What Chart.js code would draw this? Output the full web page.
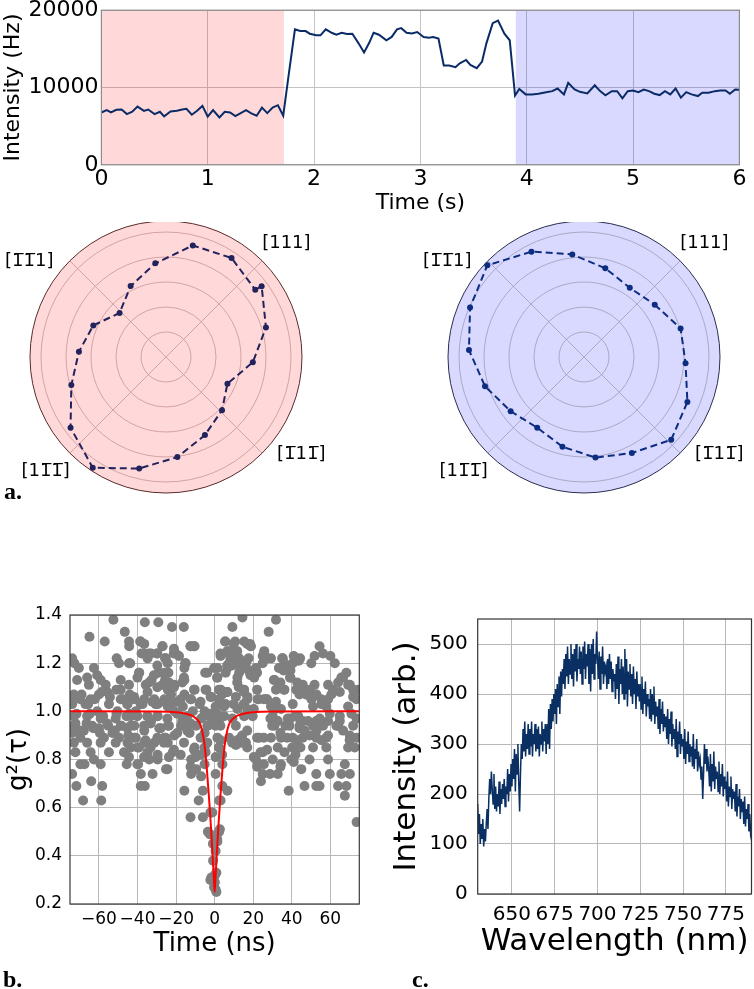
<!DOCTYPE html>
<html>
<head>
<meta charset="utf-8">
<script src="https://cdn.jsdelivr.net/npm/chart.js@4.4.1/dist/chart.umd.min.js"></script>
<style>
  html, body { margin: 0; padding: 0; background: #fff; }
  #page { position: relative; width: 754px; height: 989px; overflow: hidden; }
  canvas { position: absolute; }
  .tag { position: absolute; font: bold 24px 'Liberation Serif', 'DejaVu Serif', serif; line-height: 1; color: #000; }
</style>
</head>
<body>
<div id="page">
  <canvas id="trace" width="754" height="226" style="left:0;top:-6px"></canvas>
  <canvas id="polarA" width="340" height="272" style="left:-4px;top:222px"></canvas>
  <canvas id="polarB" width="340" height="272" style="left:414px;top:222px"></canvas>
  <canvas id="g2" width="377" height="380" style="left:0;top:595px"></canvas>
  <canvas id="spec" width="377" height="380" style="left:377px;top:595px"></canvas>
  <div class="tag" style="left:4px;top:479px">a.</div>
  <div class="tag" style="left:3px;top:967px">b.</div>
  <div class="tag" style="left:412px;top:967px">c.</div>
</div>
<script>
// ---- a. intensity trace ----
var TRACE_T = [0.00,0.05,0.09,0.14,0.19,0.24,0.29,0.34,0.40,0.44,0.50,0.55,0.59,0.65,0.71,0.76,0.80,0.85,0.90,0.95,
  1.00,1.05,1.11,1.16,1.21,1.26,1.31,1.36,1.41,1.46,1.51,1.56,1.61,1.66,1.71,1.76,1.82,
  1.87,1.92,1.96,2.02,2.06,2.11,2.17,2.21,2.26,2.31,2.36,2.42,2.47,2.52,2.56,2.61,2.68,2.73,2.78,2.82,2.87,2.92,2.97,
  3.03,3.08,3.12,3.17,3.22,3.27,3.33,3.37,3.43,3.47,3.53,3.58,3.62,3.68,3.73,3.79,3.84,3.89,
  3.93,3.99,4.05,4.11,4.17,4.24,4.29,4.35,4.39,4.45,4.50,4.57,4.64,4.69,4.74,4.80,4.85,4.90,4.95,
  5.00,5.05,5.10,5.15,5.20,5.25,5.30,5.35,5.40,5.45,5.50,5.55,5.61,5.65,5.71,5.77,5.82,5.87,5.91,5.96,6.00];
var TRACE_HZ = [6770,7070,6770,7110,7150,6560,6860,7530,6980,7150,6560,6860,6260,6900,6980,7150,7240,6480,6980,7620,
  6220,7070,6130,6860,6770,6300,6690,7070,6640,6350,7400,6690,7400,7710,6350,11500,17520,
  17300,17300,16960,16750,16750,17520,17050,16830,17090,16920,16960,15680,14540,15810,17090,16830,16110,16540,17520,17680,17090,17000,17170,
  16540,16450,16540,16320,12840,12840,12630,13130,13560,12930,12500,13350,15680,18320,18660,16960,16110,8950,
  9820,9110,9110,9190,9360,9530,9870,9110,10600,9740,9440,9230,10290,9530,8980,9530,9530,8600,9530,
  9610,9400,9740,9530,9190,9020,9530,9110,9870,8680,9400,9110,8890,9320,9320,9530,9610,9610,9190,9740,9700];
var PINK_SPAN = [0, 1.717];
var BLUE_SPAN = [3.895, 6];
var TIME_TICKS = [0, 1, 2, 3, 4, 5, 6];
var HZ_TICKS = [0, 10000, 20000];

// ---- a. polar plots (angle in degrees, counter-clockwise from +x) ----
var LEFT_ANGLE = [37, 36.5, 16.5, -3.5, -23.5, -43.5, -63.5, -83.5, -103.5, -123.5, -143.5, -163.5, 176.5, 156.5, 136.5, 116.5, 96.5, 76.5, 56.5];
var LEFT_R     = [4.47, 4.76, 4.17, 3.48, 2.68, 3.09, 3.49, 4.03, 4.59, 5.31, 4.75, 3.95, 3.49, 3.17, 2.56, 3.17, 3.77, 4.59, 4.75];
var RIGHT_ANGLE = [36.5, 16.5, -3.5, -23.5, -43.5, -63.5, -83.5, -103.5, -123.5, -143.5, -163.5, 176.5, 156.5, 136.5, 116.5, 96.5, 76.5, 56.5];
var RIGHT_R     = [3.52, 4.03, 4.07, 4.51, 4.81, 4.29, 4.05, 3.69, 3.39, 3.65, 4.13, 4.61, 4.97, 5.33, 4.71, 4.13, 3.65, 3.32];
var DIRECTIONS = ['[111]', '[1\u030511\u0305]', '[11\u03051\u0305]', '[1\u03051\u03051]'];
var DIRECTION_LABEL_ANGLE = [47, -38, -133, 143];
var SPOKE_ANGLE = [45, -45, -135, 135];
var RINGS = [0, 1, 2, 3, 4, 5, 5.44];

// ---- b. g2 ----
var G2_POINTS = [
  [-52.5,1.38],[-36.2,1.37],[-29.2,1.37],[-22.1,1.35],[-16.0,1.35],[-64.9,1.31],[-46.6,1.33],[-57.0,1.29],[-44.3,1.27],[-38.6,1.29],
  [-36.5,1.28],[-27.0,1.27],[-12.5,1.27],[-10.4,1.27],[-37.9,1.24],[-33.0,1.24],[-29.9,1.24],[-21.2,1.24],[-73.9,1.22],[-50.8,1.22],
  [-34.8,1.22],[-25.7,1.22],[-72.7,1.20],[-49.6,1.20],[-43.8,1.20],[-24.3,1.20],[-15.3,1.20],[-70.4,1.18],[-62.6,1.18],[-15.7,1.18],
  [-4.9,1.16],[-0.3,1.18],[-60.9,1.15],[-39.1,1.16],[-29.2,1.16],[-24.0,1.16],[-66.1,1.14],[-71.3,1.13],[-59.1,1.13],[-48.7,1.13],
  [-40.0,1.14],[-32.7,1.13],[-25.7,1.13],[-15.7,1.13],[-65.2,1.11],[-56.5,1.11],[-35.7,1.11],[-27.0,1.11],[-20.9,1.11],[-24.3,1.09],
  [-10.4,1.09],[-4.3,1.09],[-48.7,1.09],[-55.7,1.08],[-73.0,1.07],[-60.0,1.07],[-34.8,1.08],[-22.6,1.07],[-15.7,1.07],[-1.7,1.06],
  [-69.6,1.05],[-64.3,1.05],[-48.7,1.05],[-41.7,1.05],[-31.3,1.05],[-26.1,1.05],[-19.1,1.04],[-12.2,1.05],[-73.9,1.03],[-67.0,1.03],
  [-54.8,1.03],[-45.2,1.03],[-37.4,1.03],[-29.6,1.03],[-24.3,1.02],[-16.5,1.02],[-7.8,1.03],[-60.9,1.00],[-50.4,1.00],[-40.9,1.00],
  [-20.9,1.00],[-11.3,1.00],[-5.2,1.00],[-73.0,0.98],[-66.1,0.98],[-59.1,0.97],[-51.3,0.97],[-43.5,0.98],[-34.8,0.98],[-29.6,0.98],
  [-15.7,0.97],[-7.0,0.97],[-1.7,0.97],[-72.2,0.95],[-63.5,0.94],[-55.7,0.95],[-48.7,0.94],[-41.7,0.94],[-33.0,0.96],[-24.3,0.94],
  [-17.4,0.94],[-9.6,0.94],[-3.5,0.94],[-73.9,0.91],[-67.8,0.92],[-60.0,0.93],[-53.0,0.91],[-45.2,0.93],[-36.5,0.92],[-28.7,0.93],
  [-13.0,0.91],[-5.2,0.91],[-69.6,0.89],[-57.4,0.89],[-49.6,0.89],[-40.9,0.89],[-26.1,0.89],[-20.9,0.90],[-73.0,0.87],[-66.1,0.87],
  [-59.1,0.87],[-51.3,0.87],[-45.2,0.87],[-36.5,0.87],[-31.3,0.87],[-24.3,0.87],[-10.4,0.85],[-5.2,0.85],[-72.2,0.83],[-64.3,0.83],
  [-54.8,0.83],[-47.0,0.83],[-40.0,0.85],[-34.8,0.83],[-29.6,0.82],[-21.7,0.83],[-7.0,0.82],[-62.6,0.80],[-69.6,0.78],[-67.5,0.78],
  [-59.1,0.78],[-45.6,0.78],[-39.7,0.78],[-33.9,0.80],[-29.6,0.80],[-25.2,0.76],[-12.2,0.80],[-9.6,0.76],[-5.2,0.78],[-73.9,0.74],
  [-71.7,0.69],[-64.0,0.71],[-58.3,0.69],[-38.3,0.74],[-32.2,0.74],[-38.3,0.69],[-36.2,0.69],[-12.2,0.74],[-7.0,0.73],[-15.7,0.67],
  [-6.1,0.67],[-68.2,0.63],[-58.8,0.63],[-8.3,0.63],[-12.5,0.56],[-6.1,0.56],[-1.7,0.58],[-3.5,0.50],[-0.9,0.45],[-1.7,0.31],[-0.3,0.27],
  [14.4,1.39],[31.8,1.38],[9.2,1.35],[28.0,1.33],[5.4,1.29],[10.6,1.29],[15.3,1.29],[18.3,1.28],[18.8,1.27],[54.4,1.27],
  [6.6,1.25],[25.7,1.25],[3.1,1.23],[8.3,1.23],[12.7,1.22],[17.6,1.22],[24.9,1.23],[29.2,1.22],[35.3,1.22],[44.3,1.22],
  [51.8,1.23],[56.2,1.24],[60.0,1.23],[7.5,1.20],[11.8,1.20],[16.2,1.20],[24.9,1.20],[36.2,1.20],[40.5,1.20],[50.1,1.20],
  [62.3,1.20],[1.4,1.18],[6.6,1.18],[14.4,1.18],[21.4,1.18],[35.7,1.17],[5.7,1.16],[12.7,1.16],[18.3,1.16],[68.3,1.16],
  [1.4,1.14],[11.8,1.14],[20.5,1.14],[31.0,1.13],[39.1,1.14],[45.7,1.11],[51.8,1.11],[58.8,1.11],[65.7,1.14],[70.1,1.11],
  [74.4,1.09],[3.1,1.09],[6.6,1.08],[15.3,1.09],[31.8,1.09],[36.2,1.09],[42.3,1.09],[49.2,1.09],[64.9,1.08],[2.3,1.05],
  [11.0,1.06],[17.0,1.06],[22.3,1.05],[26.6,1.05],[31.8,1.04],[44.0,1.07],[47.5,1.07],[55.3,1.05],[60.5,1.07],[71.8,1.06],
  [0.5,1.02],[5.7,1.03],[11.8,1.01],[29.2,1.02],[34.4,1.01],[40.5,1.03],[51.0,1.02],[57.9,1.02],[69.2,1.02],[4.9,0.98],
  [9.2,0.97],[15.3,0.98],[19.7,0.98],[30.1,0.98],[32.7,0.96],[37.9,0.97],[45.7,0.96],[52.7,0.96],[58.8,0.96],[64.9,0.96],
  [73.6,0.97],[0.5,0.94],[11.0,0.94],[31.0,0.94],[38.8,0.94],[44.0,0.93],[51.0,0.94],[56.2,0.94],[64.0,0.94],[71.8,0.94],
  [1.4,0.89],[7.5,0.89],[13.6,0.89],[16.2,0.87],[23.1,0.89],[29.2,0.89],[34.4,0.89],[40.5,0.89],[45.7,0.89],[52.7,0.89],
  [57.9,0.89],[70.1,0.90],[73.6,0.89],[2.3,0.85],[11.0,0.86],[13.6,0.87],[32.7,0.85],[36.2,0.83],[51.0,0.85],[57.9,0.85],
  [69.2,0.85],[21.4,0.80],[24.9,0.83],[30.1,0.80],[39.7,0.80],[49.2,0.80],[58.8,0.80],[4.0,0.78],[22.3,0.78],[34.4,0.78],
  [67.5,0.78],[0.5,0.74],[24.9,0.74],[28.7,0.74],[32.7,0.74],[44.9,0.76],[52.7,0.74],[59.7,0.74],[65.7,0.74],[70.1,0.74],
  [24.0,0.71],[46.6,0.69],[52.7,0.69],[54.4,0.69],[64.0,0.69],[68.3,0.69],[4.0,0.69],[6.6,0.67],[38.4,0.67],[67.5,0.65],
  [3.1,0.63],[-1.2,0.58],[73.6,0.54],[2.3,0.50],[1.4,0.46],[0.5,0.42],[0.2,0.32],[0.5,0.26],
  [-2.2,0.58],[2.3,0.63],[2.7,0.51],[-2.5,0.49],[1.3,0.47],[-0.8,0.38],[0.9,0.33],[0.1,0.29],[-2.2,0.30],[0.9,0.25],
  [5.6,1.29],[9.9,1.28],[16.9,1.28],[18.6,1.27],[7.4,1.25],[11.7,1.25],[3.0,1.24],[7.4,1.24],[8.2,1.22],[6.5,1.19],
  [9.1,1.19],[12.5,1.19],[16.0,1.20],[17.7,1.17],[18.6,1.15],[22.0,1.16],[25.5,1.24],[27.2,1.22],[35.0,1.22],[41.0,1.23],
  [43.6,1.21],[33.3,1.18],[36.7,1.18],[39.3,1.17],[30.7,1.13],[34.1,1.12],[35.9,1.09],[39.3,1.14],[42.8,1.12],[44.5,1.09],
  [1.3,1.14],[2.2,1.09],[3.9,1.07],[6.5,1.08],[11.7,1.12],[12.5,1.10],[15.1,1.08],[16.9,1.05],[22.0,1.09],[22.9,1.05],
  [25.5,1.05],[27.2,1.05],[29.8,1.03],[31.5,1.01],[20.3,1.01],[4.8,1.02],[1.3,0.99],[2.2,0.96],[3.0,0.94],[15.1,1.03],
  [16.9,1.01],[9.9,1.03],[28.9,0.97],[32.4,0.96],[29.8,0.94],[39.3,0.97],[41.9,0.98],[44.5,0.96],[36.7,0.94],[34.1,0.91],
  [37.6,0.89],[25.5,0.89],[22.0,0.89],[16.9,0.92],[14.3,0.90],[11.7,0.88],[9.1,0.87],[3.0,0.88],[2.2,0.85],[16.9,0.85],
  [20.3,0.81],[23.8,0.83],[27.2,0.84],[42.8,0.88],[40.2,0.85],[41.9,0.82],[44.5,0.85],[0.5,0.81],[3.9,0.82],[22.0,0.77],
  [25.5,0.78],[34.1,0.77],[41.0,0.79],
  [-44.4,1.29],[-38.4,1.29],[-27.1,1.27],[-21.1,1.26],[-12.5,1.27],[-10.7,1.27],[-36.6,1.24],[-34.0,1.24],[-29.7,1.24],[-25.4,1.22],
  [-20.2,1.24],[-18.5,1.23],[-44.4,1.20],[-29.7,1.19],[-15.0,1.20],[-39.2,1.16],[-31.5,1.15],[-26.3,1.16],[-15.9,1.14],[-3.8,1.16],
  [-44.4,1.11],[-34.0,1.12],[-29.7,1.10],[-23.7,1.12],[-21.1,1.10],[-16.8,1.12],[-10.7,1.09],[-4.7,1.09],[-41.8,1.06],[-36.6,1.05],
  [-32.3,1.04],[-26.3,1.04],[-22.8,1.05],[-17.6,1.05],[-12.5,1.05],[-7.3,1.04],[-2.1,1.06],[-45.3,1.03],[-38.4,1.03],[-30.6,1.03],
  [-22.8,1.02],[-44.4,0.99],[-40.1,0.98],[-34.9,0.98],[-29.7,0.98],[-24.5,0.97],[-19.4,0.99],[-14.2,0.98],[-5.5,0.98],[-2.1,0.99],
  [-43.5,0.94],[-36.6,0.94],[-33.2,0.95],[-28.0,0.93],[-23.7,0.94],[-16.8,0.96],[-12.5,0.95],[-3.8,0.94],[-41.8,0.89],[-35.8,0.88],
  [-29.7,0.89],[-25.4,0.89],[-19.4,0.91],[-14.2,0.92],[-7.3,0.89],[-43.5,0.85],[-39.2,0.85],[-33.2,0.85],[-26.3,0.87],[-21.1,0.84],
  [-15.9,0.87],[-10.7,0.84],[-3.8,0.87],[-44.4,0.81],[-36.6,0.81],[-29.7,0.81],[-23.7,0.81],[-17.6,0.82],[-9.9,0.81],[-4.7,0.83],
  [-40.1,0.78],[-24.5,0.76],[-12.5,0.77],
  [45.0,1.08],[47.6,1.07],[50.2,1.05],[52.8,1.07],[55.4,1.03],[58.8,1.05],[61.4,1.09],[64.0,1.12],[66.6,1.14],[69.2,1.11],
  [71.8,1.09],[73.5,1.05],[44.1,0.94],[46.7,0.92],[49.3,0.90],[52.8,0.92],[55.4,0.88],[58.8,0.90],[63.1,0.94],[66.6,0.92],
  [70.0,0.88],[72.6,0.85],[43.3,0.98],[48.4,0.96],[54.5,0.97],[59.7,0.99],[64.9,0.98],[70.9,0.99],
  [-72.5,1.05],[-69.0,1.07],[-65.6,1.03],[-62.1,1.05],[-58.6,1.08],[-54.3,1.06],[-50.9,1.09],[-47.4,1.05],[-44.0,1.07],[-73.3,0.94],
  [-69.9,0.92],[-66.4,0.95],[-62.9,0.93],[-59.5,0.91],[-55.2,0.94],[-51.7,0.92],[-48.3,0.94],[-44.8,0.90],[-71.6,0.99],[-64.7,0.99],
  [-57.8,0.98],[-50.9,0.99],[-45.7,0.98]];
var FIT_T = [-75,-30,-20,-15,-12,-10,-8,-7,-6,-5,-4,-3,-2.5,-2,-1.5,-1,-0.5,0,0.5,1,1.5,2,2.5,3,4,5,6,7,8,10,12,15,20,30,75];
var FIT_G = [1.0,0.999,0.996,0.99,0.983,0.972,0.955,0.935,0.9,0.845,0.755,0.65,0.59,0.53,0.46,0.39,0.32,0.25,0.32,0.39,0.46,0.53,0.59,0.65,0.755,0.845,0.9,0.935,0.955,0.972,0.983,0.99,0.996,0.999,1.0];
var NS_TICKS = [-60, -40, -20, 0, 20, 40, 60];
var G2_TICKS = [0.2, 0.4, 0.6, 0.8, 1.0, 1.2, 1.4];

// ---- c. spectrum (0.5 nm sampling from 630 nm) ----
var SPEC_START = 630, SPEC_STEP = 0.5;
var SPEC_VALUES = [
  180,120,160,100,140,110,150,95,130,105, 140,170,130,190,230,200,245,210,180,240,
  170,215,165,200,175,225,160,210,180,220, 190,230,175,215,200,250,185,240,205,260,
  215,270,230,290,205,280,240,300,220,165, 240,300,270,330,285,345,275,320,290,340,
  280,330,295,345,275,320,300,340,285,330, 290,335,275,320,300,345,285,330,305,340,
  280,340,300,370,290,380,330,390,345,400, 360,410,340,420,375,435,360,445,395,450,
  420,470,410,480,435,495,420,470,440,500, 430,480,415,490,445,500,425,470,450,495,
  440,485,420,495,450,505,430,480,455,500, 420,490,405,500,440,510,430,480,460,525,
  470,430,485,410,475,440,495,420,465,445, 455,410,470,420,480,430,465,405,450,425,
  440,390,460,410,475,380,450,420,470,400, 455,390,490,400,470,375,445,410,460,395,
  440,380,455,400,430,370,445,395,420,385, 420,370,435,360,410,380,425,355,400,375,
  390,350,410,345,400,360,415,340,385,355, 375,330,390,320,370,340,385,325,360,335,
  355,310,370,300,350,320,365,295,340,310, 330,290,350,275,325,300,345,280,320,295,
  310,270,330,260,305,280,325,265,300,275, 295,255,320,250,290,270,310,245,285,260,
  270,230,255,190,240,300,260,290,245,275, 250,215,280,205,260,225,285,210,255,230,
  245,205,265,200,240,215,260,195,235,210, 225,185,245,175,215,195,235,170,210,190,
  205,165,220,155,195,175,210,150,190,165, 185,140,195,135,170,150,180,125,160,120,
  130];
var NM_TICKS = [650, 675, 700, 725, 750, 775];
var ARB_TICKS = [0, 100, 200, 300, 400, 500];

Chart.defaults.font.family = "'DejaVu Sans', sans-serif";
Chart.defaults.color = '#000';
Chart.defaults.animation = false;

var framePlugin = {
  id: 'frame',
  afterDraw: function(chart, args, opts) {
    var a = chart.chartArea, ctx = chart.ctx;
    ctx.save();
    ctx.strokeStyle = opts.color;
    ctx.lineWidth = opts.width;
    ctx.strokeRect(a.left, a.top, a.right - a.left, a.bottom - a.top);
    ctx.restore();
  }
};

function fixedTicks(list) {
  return function(scale) { scale.ticks = list.map(function(v) { return {value: v}; }); };
}

function pairs(xs, ys) {
  return xs.map(function(x, i) { return {x: x, y: ys[i]}; });
}

// trace
new Chart(document.getElementById('trace'), {
  type: 'line',
  data: {
    datasets: [{
      data: pairs(TRACE_T, TRACE_HZ),
      borderColor: '#0b2b66',
      borderWidth: 2,
      pointRadius: 0,
      tension: 0
    }, {
      data: [{x: PINK_SPAN[0], y: HZ_TICKS[2]}, {x: PINK_SPAN[1], y: HZ_TICKS[2]}],
      fill: 'origin',
      backgroundColor: 'rgba(255,0,0,0.15)',
      borderWidth: 0,
      pointRadius: 0
    }, {
      data: [{x: BLUE_SPAN[0], y: HZ_TICKS[2]}, {x: BLUE_SPAN[1], y: HZ_TICKS[2]}],
      fill: 'origin',
      backgroundColor: 'rgba(0,0,255,0.15)',
      borderWidth: 0,
      pointRadius: 0
    }]
  },
  options: {
    responsive: false,
    events: [],
    layout: {padding: {top: 13.8, right: 14.6, left: 0, bottom: 0}},
    plugins: {legend: {display: false}, tooltip: {enabled: false}, frame: {color: '#8c8c8c', width: 1.2}},
    scales: {
      x: {
        type: 'linear', min: 0, max: 6,
        afterBuildTicks: fixedTicks(TIME_TICKS),
        afterFit: function(s) { s.height = 55.2; },
        ticks: {padding: 1, font: {size: 22}, maxRotation: 0, autoSkip: false, callback: function(v) { return String(v); }},
        grid: {color: '#c4c4c4', drawTicks: false},
        border: {display: false},
        title: {display: true, text: 'Time (s)', font: {size: 22}, padding: {top: 0, bottom: 3.8}}
      },
      y: {
        min: 0, max: 20000,
        afterBuildTicks: fixedTicks(HZ_TICKS),
        afterFit: function(s) { s.width = 101.4; },
        ticks: {padding: 3, font: {size: 22}, callback: function(v) { return String(v); }},
        grid: {color: '#c4c4c4', drawTicks: false},
        border: {display: false},
        title: {display: true, text: 'Intensity (Hz)', font: {size: 22}, padding: {top: 0, bottom: 0}}
      }
    }
  },
  plugins: [framePlugin]
});

// polar plots drawn as radar charts on 0.5 degree slots
var SLOTS = 720, START_ANGLE = 45;
function slotFor(theta) {
  var cw = 90 - theta - START_ANGLE;
  cw = ((cw % 360) + 360) % 360;
  return Math.round(cw * SLOTS / 360) % SLOTS;
}
var slotLabels = [];
for (var i = 0; i < SLOTS; i++) slotLabels.push('');
DIRECTION_LABEL_ANGLE.forEach(function(a, k) { slotLabels[slotFor(a)] = DIRECTIONS[k]; });
var spokeSlots = SPOKE_ANGLE.map(slotFor);

function polar(id, angles, radii, face, line, ring, edge) {
  var values = slotLabels.map(function() { return null; });
  angles.forEach(function(a, k) { values[slotFor(a)] = radii[k]; });
  new Chart(document.getElementById(id), {
    type: 'radar',
    data: {
      labels: slotLabels,
      datasets: [{
        data: values,
        spanGaps: true,
        fill: false,
        borderColor: line,
        borderWidth: 2,
        borderDash: [7, 4],
        pointRadius: 3,
        pointBorderWidth: 0,
        pointBackgroundColor: line
      }]
    },
    options: {
      responsive: false,
      events: [],
      plugins: {legend: {display: false}, tooltip: {enabled: false}},
      scales: {
        r: {
          min: 0, max: RINGS[RINGS.length - 1],
          startAngle: START_ANGLE,
          backgroundColor: face,
          afterBuildTicks: fixedTicks(RINGS),
          ticks: {display: false},
          grid: {
            circular: true,
            color: function(c) { return c.tick && c.tick.value === RINGS[RINGS.length - 1] ? edge : ring; },
            lineWidth: 1
          },
          angleLines: {
            color: ring,
            lineWidth: function(c) { return spokeSlots.indexOf(c.index) >= 0 ? 1 : 0; }
          },
          pointLabels: {
            color: '#000',
            padding: function(c) { return slotLabels[c.index] ? 5 : 0; },
            font: function(c) { return {size: slotLabels[c.index] ? 18 : 0.01}; }
          }
        }
      }
    }
  });
}
polar('polarA', LEFT_ANGLE, LEFT_R, '#ffd9d9', '#22225c', '#d3a3a3', '#5a2a2a');
polar('polarB', RIGHT_ANGLE, RIGHT_R, '#d9d9ff', '#0d2e80', '#a9a9c6', '#2c2c4c');

// g2
new Chart(document.getElementById('g2'), {
  type: 'scatter',
  data: {
    datasets: [{
      type: 'line',
      data: pairs(FIT_T, FIT_G),
      borderColor: '#ff0000',
      borderWidth: 2,
      pointRadius: 0,
      cubicInterpolationMode: 'monotone'
    }, {
      data: G2_POINTS.map(function(p) { return {x: p[0], y: p[1]}; }),
      pointRadius: 5,
      pointBorderWidth: 0,
      backgroundColor: '#7f7f7f',
      clip: 0
    }]
  },
  options: {
    responsive: false,
    events: [],
    layout: {padding: {top: 20, right: 17.7, left: 0, bottom: 11}},
    plugins: {legend: {display: false}, tooltip: {enabled: false}, frame: {color: '#3a3a3a', width: 1.2}},
    scales: {
      x: {
        type: 'linear', min: -75, max: 75,
        afterBuildTicks: fixedTicks(NS_TICKS),
        afterFit: function(s) { s.height = 60; },
        ticks: {padding: 5, font: {size: 17}, maxRotation: 0, autoSkip: false,
          callback: function(v) { return v < 0 ? '\u2212' + Math.abs(v) : String(v); }},
        grid: {color: '#b8b8b8', drawTicks: false},
        border: {display: false},
        title: {display: true, text: 'Time (ns)', font: {size: 26}, padding: {top: 0, bottom: 4.4}}
      },
      y: {
        min: 0.2, max: 1.4,
        afterBuildTicks: fixedTicks(G2_TICKS),
        afterFit: function(s) { s.width = 70; },
        ticks: {padding: 8, font: {size: 17}, callback: function(v) { return v.toFixed(1); }},
        grid: {color: '#b8b8b8', drawTicks: false},
        border: {display: false},
        title: {display: true, text: 'g\u00b2(\u03c4)', font: {size: 26}, padding: {top: 3.4, bottom: 0}}
      }
    }
  },
  plugins: [framePlugin]
});

// spectrum
new Chart(document.getElementById('spec'), {
  type: 'line',
  data: {
    datasets: [{
      data: SPEC_VALUES.map(function(v, k) { return {x: SPEC_START + k * SPEC_STEP, y: v}; }),
      borderColor: '#0a2f62',
      borderWidth: 1.5,
      pointRadius: 0,
      tension: 0
    }]
  },
  options: {
    responsive: false,
    events: [],
    layout: {padding: {top: 24, right: 1, left: 0, bottom: 11}},
    plugins: {legend: {display: false}, tooltip: {enabled: false}, frame: {color: '#333333', width: 1.2}},
    scales: {
      x: {
        type: 'linear', min: 630, max: 790,
        afterBuildTicks: fixedTicks(NM_TICKS),
        afterFit: function(s) { s.height = 70; },
        ticks: {padding: 9, font: {size: 20}, maxRotation: 0, autoSkip: false, callback: function(v) { return String(v); }},
        grid: {color: '#b8b8b8', drawTicks: false},
        border: {display: false},
        title: {display: true, text: 'Wavelength (nm)', font: {size: 31}, padding: {top: 0, bottom: 3.4}}
      },
      y: {
        min: 0, max: 550,
        afterBuildTicks: fixedTicks(ARB_TICKS),
        afterFit: function(s) { s.width = 100.7; },
        ticks: {padding: 10, font: {size: 20}, callback: function(v) { return String(v); }},
        grid: {color: '#b8b8b8', drawTicks: false},
        border: {display: false},
        title: {display: true, text: 'Intensity (arb.)', font: {size: 31}, padding: {top: 11.4, bottom: 0}}
      }
    }
  },
  plugins: [framePlugin]
});
</script>
</body>
</html>
